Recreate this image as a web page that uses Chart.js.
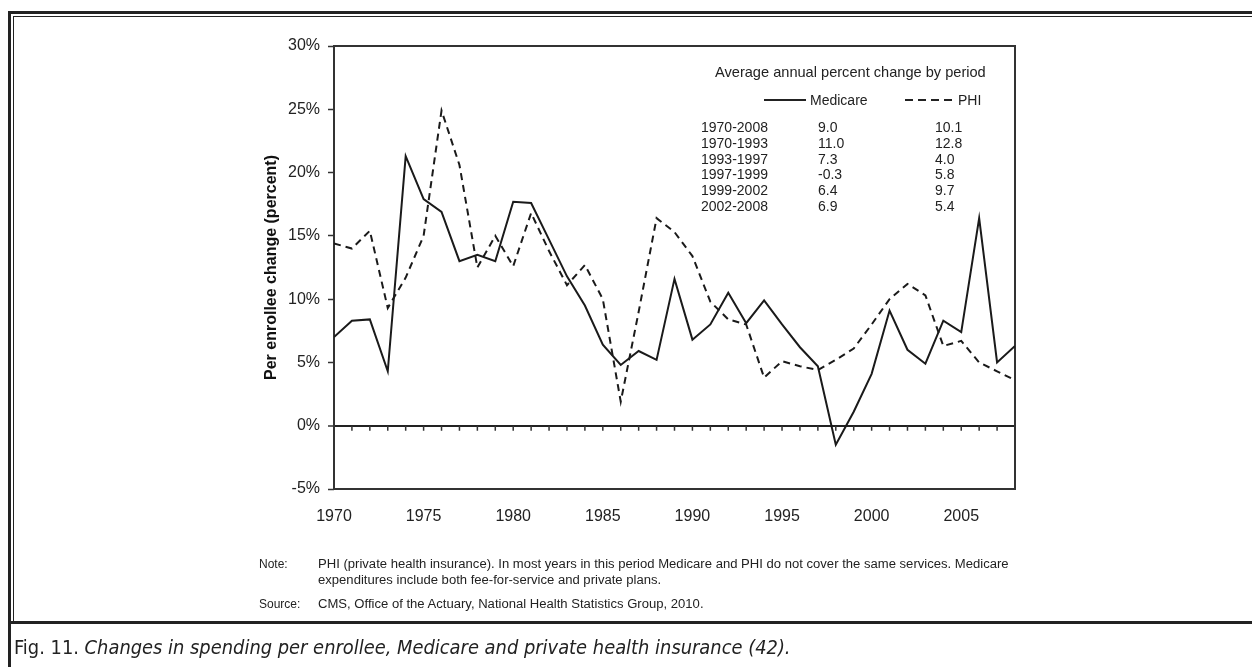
<!DOCTYPE html>
<html><head><meta charset="utf-8">
<script src="https://cdn.jsdelivr.net/npm/chart.js@4.4.1/dist/chart.umd.min.js"></script>
<style>
html,body{margin:0;padding:0;background:#fff}
body{width:1252px;height:667px;overflow:hidden;position:relative;font-family:"Liberation Sans",Arial,sans-serif;color:#222}
.abs{position:absolute;white-space:nowrap}
.ln{position:absolute;background:#222}
#chartBox{position:absolute;left:0;top:0;width:1252px;height:667px}
.lg{font-size:14px;line-height:16px}
.note{font-size:12px;line-height:14px;transform-origin:0 50%}
#cap{font-family:"Liberation Sans Narrow","DejaVu Sans Condensed",sans-serif;font-size:20px;line-height:22px;transform-origin:0 50%;color:#222}
</style></head>
<body>
<div id="chartBox"><canvas id="c" width="1252" height="667"></canvas></div>

<!-- page frame -->
<div class="ln" style="left:8px;top:11px;width:1244px;height:3px"></div>
<div class="ln" style="left:13px;top:16px;width:1239px;height:1px"></div>
<div class="ln" style="left:8px;top:11px;width:3px;height:656px"></div>
<div class="ln" style="left:13px;top:16px;width:1px;height:605px"></div>
<div class="ln" style="left:8px;top:621px;width:1244px;height:3px"></div>

<!-- legend table -->
<div class="abs" style="left:715px;top:64px;font-size:14.6px;line-height:16px">Average annual percent change by period</div>
<div class="ln" style="left:764px;top:99px;width:42px;height:2px"></div>
<div class="abs lg" style="left:810px;top:92px">Medicare</div>
<div class="abs" style="left:905px;top:99px;width:48px;height:2px;background:repeating-linear-gradient(to right,#222 0 8px,transparent 8px 13px)"></div>
<div class="abs lg" style="left:958px;top:92px">PHI</div>
<div id="rows"></div>

<!-- notes -->
<div class="abs note" style="left:259px;top:557px">Note:</div>
<div class="abs note fit" id="n1" style="left:318px;top:557px">PHI (private health insurance). In most years in this period Medicare and PHI do not cover the same services. Medicare</div>
<div class="abs note fit" style="left:318px;top:573px">expenditures include both fee-for-service and private plans.</div>
<div class="abs note" style="left:259px;top:597px">Source:</div>
<div class="abs note fit" style="left:318px;top:597px">CMS, Office of the Actuary, National Health Statistics Group, 2010.</div>

<div class="abs" id="cap" style="left:14px;top:636px">Fig. 11. <i>Changes in spending per enrollee, Medicare and private health insurance (42).</i></div>

<script>
const years = [1970,1971,1972,1973,1974,1975,1976,1977,1978,1979,1980,1981,1982,1983,1984,1985,1986,1987,1988,1989,1990,1991,1992,1993,1994,1995,1996,1997,1998,1999,2000,2001,2002,2003,2004,2005,2006,2007,2008];
const medicare = [7.0,8.3,8.4,4.3,21.3,17.9,16.9,13.0,13.5,13.0,17.7,17.6,14.7,11.8,9.5,6.4,4.8,5.9,5.2,11.6,6.8,8.0,10.5,8.1,9.9,8.0,6.2,4.7,-1.5,1.1,4.1,9.1,6.0,4.9,8.3,7.4,16.4,5.0,6.3];
const phi = [14.4,14.0,15.4,9.3,11.7,15.0,24.9,20.6,12.5,15.0,12.6,16.8,13.8,11.1,12.7,10.0,1.9,9.0,16.4,15.3,13.4,9.8,8.4,8.0,3.8,5.1,4.7,4.4,5.2,6.1,8.0,10.0,11.2,10.3,6.3,6.7,5.0,4.3,3.6];
const periods = ["1970-2008","1970-1993","1993-1997","1997-1999","1999-2002","2002-2008"];
const medicareAvg = ["9.0","11.0","7.3","-0.3","6.4","6.9"];
const phiAvg = ["10.1","12.8","4.0","5.8","9.7","5.4"];

// legend table rows
const rowTops = [119,134.5,150.5,166,182,197.7];
const rowsEl = document.getElementById('rows');
periods.forEach((p,i)=>{
  [[701,p],[818,medicareAvg[i]],[935,phiAvg[i]]].forEach(([l,t])=>{
    const d=document.createElement('div');
    d.className='abs lg'; d.style.left=l+'px'; d.style.top=rowTops[i]+'px'; d.textContent=t;
    rowsEl.appendChild(d);
  });
});

const framePlugin = {
  id:'frame',
  beforeDatasetsDraw(chart){
    const {ctx, chartArea:a, scales:{x,y}} = chart;
    ctx.save();
    ctx.strokeStyle='#333'; ctx.lineWidth=2;
    ctx.strokeRect(a.left, a.top, a.right-a.left, a.bottom-a.top);
    const y0 = y.getPixelForValue(0);
    ctx.lineWidth=1.5;
    ctx.beginPath();
    years.forEach(yr=>{const px=x.getPixelForValue(yr); ctx.moveTo(px,y0); ctx.lineTo(px,y0+5);});
    ctx.stroke();
    ctx.restore();
  }
};

const fam = '"Liberation Sans", Arial, sans-serif';
new Chart(document.getElementById('c'), {
  type:'line',
  data:{datasets:[
    {label:'Medicare', data:years.map((yr,i)=>({x:yr,y:medicare[i]})), borderColor:'#1a1a1a', borderWidth:2, pointRadius:0, tension:0, fill:false},
    {label:'PHI', data:years.map((yr,i)=>({x:yr,y:phi[i]})), borderColor:'#1a1a1a', borderWidth:2, borderDash:[7,5], pointRadius:0, tension:0, fill:false}
  ]},
  options:{
    responsive:false, animation:false, events:[],
    layout:{padding:{left:258,right:237,top:46,bottom:128}},
    plugins:{legend:{display:false}, tooltip:{enabled:false}},
    scales:{
      x:{type:'linear', min:1970, max:2008, afterFit(s){s.height=50;},
        grid:{display:false, drawTicks:false}, border:{display:false},
        ticks:{stepSize:5, includeBounds:false, padding:18, maxRotation:0, autoSkip:false, color:'#222', font:{family:fam,size:16}, callback:v=>String(v)}},
      y:{type:'linear', min:-5, max:30, afterFit(s){s.width=76;},
        grid:{drawOnChartArea:true, color:c=>(c.tick&&c.tick.value===0)?'#222':'rgba(0,0,0,0)', lineWidth:c=>(c.tick&&c.tick.value===0)?2:1, tickColor:'#333', tickLength:6, tickWidth:1.5},
        border:{display:false},
        ticks:{stepSize:5, padding:8, color:'#222', font:{family:fam,size:16}, callback:v=>v+'%'},
        title:{display:true, text:'Per enrollee change (percent)', color:'#111', font:{family:fam,size:16,weight:'bold'}, padding:{top:4,bottom:4}}}
    }
  },
  plugins:[framePlugin]
});

function fit(){
  const n1=document.getElementById('n1');
  const s=691/n1.offsetWidth;
  document.querySelectorAll('.fit').forEach(e=>e.style.transform='scaleX('+s+')');
  const cap=document.getElementById('cap');
  const cs=777/cap.offsetWidth;
  cap.style.transform='scaleX('+cs+')';
}
fit();
if(document.fonts&&document.fonts.ready) document.fonts.ready.then(fit);
</script>
</body></html>
